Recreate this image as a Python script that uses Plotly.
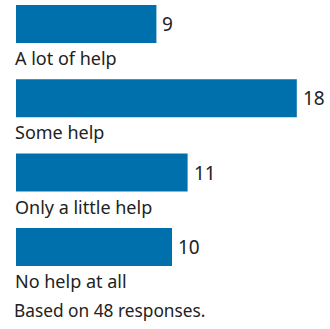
import plotly.graph_objects as go

categories = ["A lot of help", "Some help", "Only a little help", "No help at all"]
values = [9, 18, 11, 10]
footnote = "Based on 48 responses."

W, H = 330, 329
L = 16
px_per_unit = 15.6
pitch = 74.3
first_center = 24
bar_h = 38

ypos = list(range(len(categories)))
fig = go.Figure(go.Bar(
    x=values, y=ypos, orientation="h",
    marker=dict(color="#0070ad", line=dict(width=0)),
    width=bar_h / pitch, hoverinfo="skip",
))

font = "Noto Sans, Open Sans, sans-serif"
anns = []
for i, (c, v) in enumerate(zip(categories, values)):
    anns.append(dict(x=0, y=i + 34 / pitch, xref="x", yref="y", text=c, showarrow=False,
                     xanchor="left", yanchor="middle", xshift=-3,
                     font=dict(size=18, color="#222", family=font)))
    anns.append(dict(x=v, y=i, xref="x", yref="y", text=str(v), showarrow=False,
                     xanchor="left", yanchor="middle", xshift=4,
                     font=dict(size=19, color="#222", family=font)))
anns.append(dict(x=-4 / (W - L), y=(H - 310) / H, xref="paper", yref="paper", text=footnote,
                 showarrow=False, xanchor="left", yanchor="middle",
                 font=dict(size=17.3, color="#222", family=font)))

fig.update_layout(
    width=W, height=H,
    margin=dict(l=L, r=0, t=0, b=0),
    paper_bgcolor="white", plot_bgcolor="white",
    showlegend=False,
    xaxis=dict(range=[0, (W - L) / px_per_unit], visible=False, fixedrange=True),
    yaxis=dict(range=[(H - first_center) / pitch, -first_center / pitch], visible=False, fixedrange=True),
    annotations=anns,
)
fig.write_html("out.html", config={"displayModeBar": False, "staticPlot": True},
               post_script="document.body.style.margin='0';")
